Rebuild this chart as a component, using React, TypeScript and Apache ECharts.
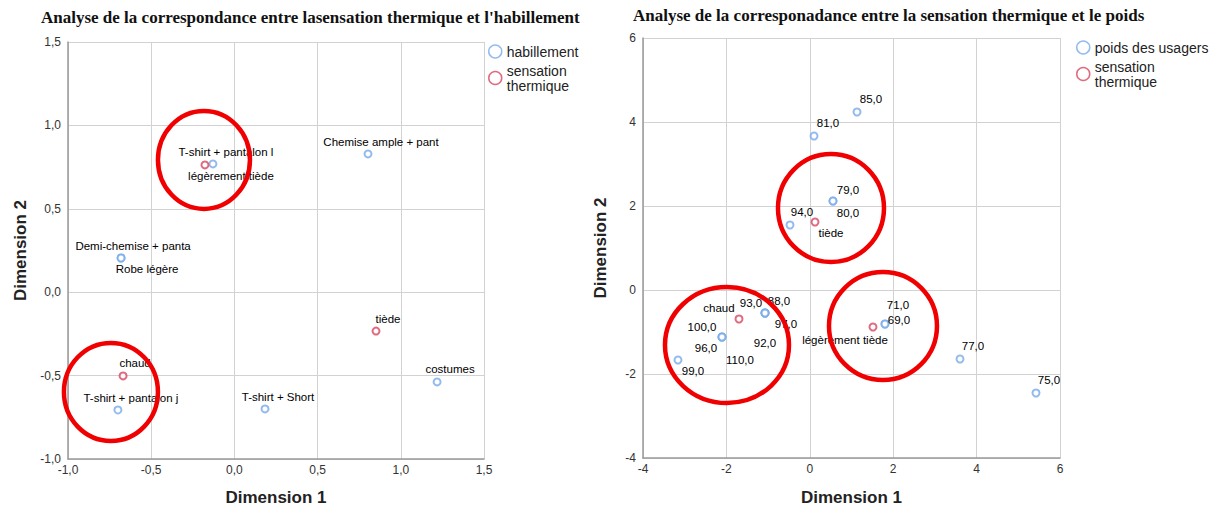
import React, { useEffect, useRef } from "react";
import * as echarts from "echarts";

// ---------- Left chart: clothing vs thermal sensation ----------
const leftTitle = "Analyse de la correspondance entre lasensation thermique et l'habillement";
const clothingNames = [
  "T-shirt + pantalon l",
  "Chemise ample + pant",
  "Demi-chemise + panta",
  "Robe légère",
  "T-shirt + pantalon j",
  "T-shirt + Short",
  "costumes",
];
const clothingX = [-0.129, 0.803, -0.681, -0.681, -0.700, 0.184, 1.218];
const clothingY = [0.769, 0.829, 0.205, 0.205, -0.706, -0.700, -0.538];
const clothingLabelOffsets = [[13, -12], [13, -12], [12, -12], [26, 11], [13, -12], [13, -12], [13, -13]];

const sensationLeftNames = ["légèrement tiède", "tiède", "chaud"];
const sensationLeftX = [-0.177, 0.851, -0.669];
const sensationLeftY = [0.763, -0.233, -0.502];
const sensationLeftLabelOffsets = [[26, 11], [12, -12], [12, -13]];

// ---------- Right chart: weight vs thermal sensation ----------
const rightTitle = "Analyse de la corresponadance entre la sensation thermique et le poids";
const weightNames = [
  "85,0", "81,0", "79,0", "80,0", "94,0",
  "93,0", "88,0", "97,0", "92,0",
  "100,0", "96,0", "110,0", "99,0",
  "71,0", "69,0", "77,0", "75,0",
];
const weightX = [
  1.132, 0.101, 0.556, 0.556, -0.475,
  -1.074, -1.074, -1.074, -1.074,
  -2.106, -2.106, -2.106, -3.161,
  1.803, 1.803, 3.602, 5.424,
];
const weightY = [
  4.238, 3.667, 2.119, 2.119, 1.548,
  -0.548, -0.548, -0.548, -0.548,
  -1.119, -1.119, -1.119, -1.667,
  -0.810, -0.810, -1.643, -2.452,
];
const weightLabelOffsets = [
  [14, -13], [14, -13], [15, -11], [15, 12], [12, -13],
  [-14, -10], [14, -12], [21, 11], [0, 30],
  [-20, -10], [-16, 11], [18, 23], [15, 11],
  [13, -19], [14, -4], [13, -13], [13, -13],
];

const sensationRightNames = ["tiède", "chaud", "légèrement tiède"];
const sensationRightX = [0.125, -1.698, 1.515];
const sensationRightY = [1.619, -0.690, -0.881];
const sensationRightLabelOffsets = [[16, 11], [-20, -11], [-28, 13]];

// Highlight ellipses (data-space centres, pixel radii)
const leftHighlights = [
  { x: -0.183, y: 0.793, rx: 46, ry: 49 },
  { x: -0.742, y: -0.598, rx: 47, ry: 49 },
];
const rightHighlights = [
  { x: 0.508, y: 1.952, rx: 53, ry: 54 },
  { x: -1.986, y: -1.31, rx: 62, ry: 58 },
  { x: 1.755, y: -0.857, rx: 54, ry: 54 },
];

const BLUE = "#78aaea";
const RED = "#d8455f";
const SANS = "Arial, 'Liberation Sans', sans-serif";
const SERIF = "'Liberation Serif', 'Times New Roman', serif";

function buildData(names: string[], xs: number[], ys: number[], offs: number[][]) {
  return names.map((n, i) => ({
    name: n,
    value: [xs[i], ys[i]],
    label: { offset: offs[i] },
  }));
}

const fmtLeft = (v: number) => v.toFixed(1).replace(".", ",");
const fmtRight = (v: number) => String(v);

function axisCommon(fmt: (v: number) => string, margin: number) {
  return {
    type: "value" as const,
    axisLine: { show: true, onZero: false, lineStyle: { color: "#9a9a9a", width: 1.5 } },
    axisTick: { show: false },
    splitLine: { show: true, lineStyle: { color: "#d2d2d2", width: 1 } },
    axisLabel: { color: "#333", fontSize: 12, fontFamily: SANS, formatter: fmt, margin },
    nameTextStyle: { color: "#222", fontSize: 17, fontWeight: "bold" as const, fontFamily: SANS },
    nameLocation: "middle" as const,
  };
}

function seriesDef(name: string, color: string, xi: number, data: any[]) {
  return {
    type: "scatter" as const,
    name,
    xAxisIndex: xi,
    yAxisIndex: xi,
    symbol: "emptyCircle",
    symbolSize: 7,
    itemStyle: { color, borderColor: color, borderWidth: 1.5 },
    label: {
      show: true,
      position: ["50%", "50%"],
      align: "center",
      verticalAlign: "middle",
      formatter: "{b}",
      color: "#000",
      opacity: 1,
      textBorderWidth: 0,
      textBorderColor: "none",
      fontSize: 11.5,
      fontFamily: SANS,
    },
    emphasis: { disabled: true },
    data,
  };
}

export default function App() {
  const ref = useRef<HTMLDivElement>(null);
  useEffect(() => {
    if (!ref.current) return;
    const chart = echarts.init(ref.current, undefined, { renderer: "svg" });
    const legendItem = (name: string, color: string) => ({
      name,
      icon: "circle",
      itemStyle: { color: "#fff", borderColor: color, borderWidth: 1.5 },
    });
    const legendCommon = {
      orient: "vertical" as const,
      padding: 0,
      itemWidth: 13,
      itemHeight: 13,
      itemGap: 4,
      selectedMode: false,
      formatter: (n: string) => (n === "sensation thermique" ? "sensation\nthermique" : n),
      textStyle: { fontSize: 14, fontFamily: SANS, color: "#222", lineHeight: 15 },
    };
    const titleStyle = { fontFamily: SERIF, fontWeight: "bold" as const, fontSize: 17, color: "#111" };
    chart.setOption({
      animation: false,
      backgroundColor: "#fff",
      title: [
        { text: leftTitle, left: 36, top: 4, textStyle: titleStyle },
        { text: rightTitle, left: 628, top: 2, textStyle: titleStyle },
      ],
      legend: [
        {
          ...legendCommon,
          left: 488,
          top: 44,
          data: [legendItem("habillement", BLUE), legendItem("sensation thermique", RED)],
        },
        {
          ...legendCommon,
          left: 1076,
          top: 40,
          data: [legendItem("poids des usagers", BLUE), legendItem("sensation thermique", RED)],
        },
      ],
      grid: [
        { left: 68, top: 42, width: 416, height: 417 },
        { left: 643, top: 38, width: 417, height: 420 },
      ],
      xAxis: [
        { ...axisCommon(fmtLeft, 5), gridIndex: 0, min: -1, max: 1.5, interval: 0.5, name: "Dimension 1", nameGap: 30 },
        { ...axisCommon(fmtRight, 5), gridIndex: 1, min: -4, max: 6, interval: 2, name: "Dimension 1", nameGap: 31 },
      ],
      yAxis: [
        { ...axisCommon(fmtLeft, 7), gridIndex: 0, min: -1, max: 1.5, interval: 0.5, name: "Dimension 2", nameGap: 39 },
        { ...axisCommon(fmtRight, 7), gridIndex: 1, min: -4, max: 6, interval: 2, name: "Dimension 2", nameGap: 34 },
      ],
      series: [
        seriesDef("habillement", BLUE, 0, buildData(clothingNames, clothingX, clothingY, clothingLabelOffsets)),
        seriesDef("sensation thermique", RED, 0, buildData(sensationLeftNames, sensationLeftX, sensationLeftY, sensationLeftLabelOffsets)),
        seriesDef("poids des usagers", BLUE, 1, buildData(weightNames, weightX, weightY, weightLabelOffsets)),
        seriesDef("sensation thermique", RED, 1, buildData(sensationRightNames, sensationRightX, sensationRightY, sensationRightLabelOffsets)),
      ],
    });

    const ellipses: any[] = [];
    const addEllipses = (list: typeof leftHighlights, gridIndex: number) => {
      list.forEach((h) => {
        const p = chart.convertToPixel({ gridIndex } as any, [h.x, h.y]) as number[];
        ellipses.push({
          type: "ellipse",
          shape: { cx: p[0], cy: p[1], rx: h.rx, ry: h.ry },
          style: { fill: "none", stroke: "#f00000", lineWidth: 4.5 },
          silent: true,
          z: 100,
        });
      });
    };
    addEllipses(leftHighlights, 0);
    addEllipses(rightHighlights, 1);
    chart.setOption({ graphic: ellipses });

    return () => chart.dispose();
  }, []);
  return (
    <div
      ref={ref}
      style={{ position: "fixed", left: 0, top: 0, width: 1214, height: 512 }}
    />
  );
}
